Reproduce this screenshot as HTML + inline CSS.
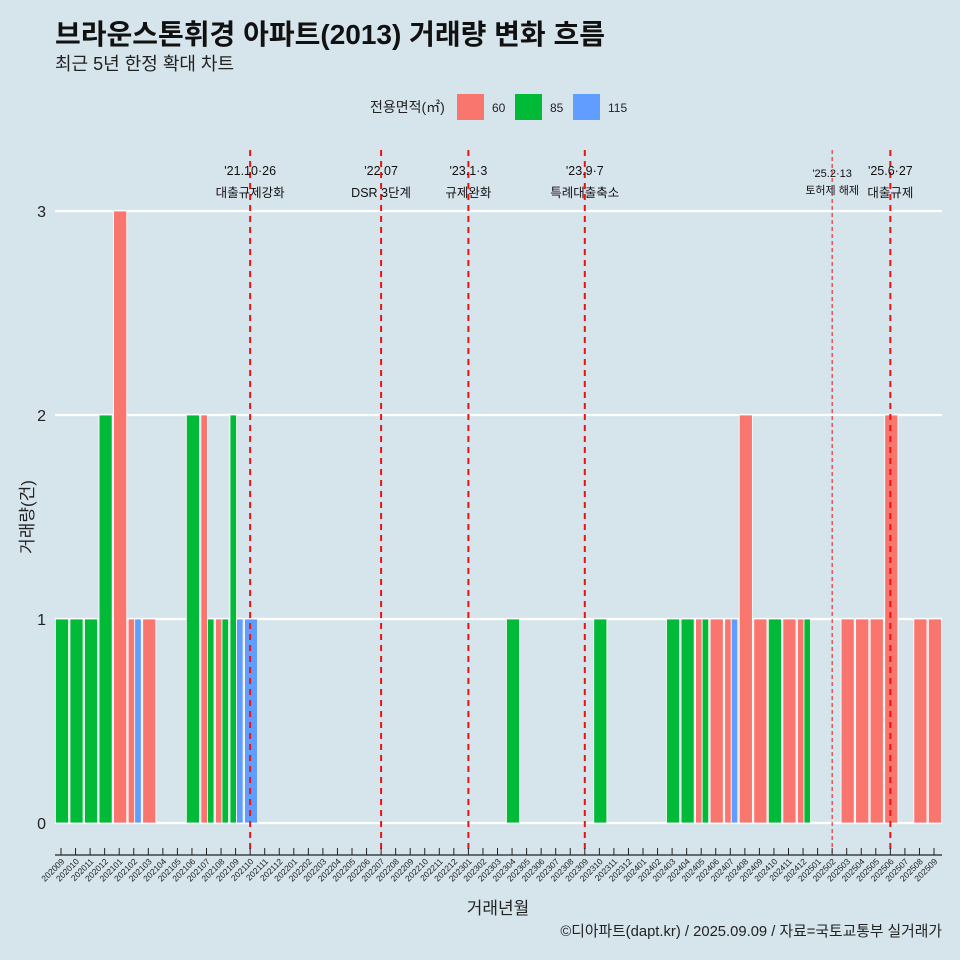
<!DOCTYPE html>
<html><head><meta charset="utf-8"><style>
body{margin:0;background:#d6e4ec;}
svg{display:block;font-family:"Liberation Sans","Noto Sans CJK KR",sans-serif;}
</style></head><body>
<svg id="c" width="960" height="960">
<rect width="960" height="960" fill="#d6e4ec"/>
<text x="55" y="44" font-size="28" font-weight="bold" fill="#111">브라운스톤휘경 아파트(2013) 거래량 변화 흐름</text>
<text x="55" y="70" font-size="18" fill="#222">최근 5년 한정 확대 차트</text>
<g>
<text x="370" y="112" font-size="14" fill="#222">전용면적(㎡)</text>
<rect x="457" y="94" width="27" height="26" fill="#f8766d"/>
<text x="492" y="112" font-size="12" fill="#222">60</text>
<rect x="515" y="94" width="27" height="26" fill="#00ba38"/>
<text x="550" y="112" font-size="12" fill="#222">85</text>
<rect x="573" y="94" width="27" height="26" fill="#619cff"/>
<text x="608" y="112" font-size="12" fill="#222">115</text>
</g>
<g id="grid"></g><g id="bars"></g><g id="vl"></g><g id="axes"></g>
<text x="498" y="914" font-size="17" text-anchor="middle" fill="#222">거래년월</text>
<text transform="translate(33,517) rotate(-90)" font-size="17" text-anchor="middle" fill="#222">거래량(건)</text>
<text x="942" y="936" font-size="14.8" text-anchor="end" fill="#222">©디아파트(dapt.kr) / 2025.09.09 / 자료=국토교통부 실거래가</text>
</svg>
<script>
const months=[];for(let y=2020,m=9;!(y===2025&&m===10);){months.push(y+String(m).padStart(2,'0'));m++;if(m>12){m=1;y++;}}
const s60={"202101":3,"202102":1,"202103":1,"202107":2,"202108":1,"202405":1,"202406":1,"202407":1,"202408":2,"202409":1,"202411":1,"202412":1,"202503":1,"202504":1,"202505":1,"202506":2,"202508":1,"202509":1};
const s85={"202009":1,"202010":1,"202011":1,"202012":2,"202106":2,"202107":1,"202108":1,"202109":2,"202304":1,"202310":1,"202403":1,"202404":1,"202405":1,"202410":1,"202412":1};
const s115={"202102":1,"202109":1,"202110":1,"202407":1};
const yTicks=[0,1,2,3];
const events=[{m:"202110",l1:"'21.10·26",l2:"대출규제강화",w:2},{m:"202207",l1:"'22.07",l2:"DSR 3단계",w:2},{m:"202301",l1:"'23.1·3",l2:"규제완화",w:2},{m:"202309",l1:"'23.9·7",l2:"특례대출축소",w:2},{m:"202502",l1:"'25.2·13",l2:"토허제 해제",w:1,small:1},{m:"202506",l1:"'25.6·27",l2:"대출규제",w:2}];
const NS="http://www.w3.org/2000/svg";
const x0=61,dx=14.55,y0=823,dy=204;
const X=i=>x0+i*dx, Y=v=>y0-v*dy;
function mk(t,a,p){const e=document.createElementNS(NS,t);for(const k in a)e.setAttribute(k,a[k]);p.appendChild(e);return e;}
const G=document.getElementById('grid'),B=document.getElementById('bars'),V=document.getElementById('vl'),A=document.getElementById('axes');
yTicks.forEach(v=>{const l=mk('line',{x1:55,x2:942,y1:Y(v),y2:Y(v),stroke:'#fff','stroke-width':2.2},G);


const t=mk('text',{x:46,y:Y(v)+6,'font-size':16,'text-anchor':'end',fill:'#222'},A);t.textContent=v;

});
const ser=[[s60,'#f8766d','60'],[s85,'#00ba38','85'],[s115,'#619cff','115']];
months.forEach((m,i)=>{const present=ser.filter(s=>s[0][m]);const bw=13.1/Math.max(present.length,1);
present.forEach((s,j)=>{const v=s[0][m];const r=mk('rect',{x:X(i)-5.6+j*bw,y:Y(v),width:bw,height:v*dy,fill:s[1],stroke:'#fff','stroke-width':0.8},B);

});
const tk=mk('line',{x1:X(i),x2:X(i),y1:848,y2:855,stroke:'#222','stroke-width':1},A);


const t=mk('text',{transform:`translate(${X(i)+4},862) rotate(-45)`,'font-size':8.5,'text-anchor':'end',fill:'#222'},A);t.textContent=m;

});
const ax=mk('line',{x1:55,x2:942,y1:855,y2:855,stroke:'#222','stroke-width':1.2},A);


events.forEach(e=>{const i=months.indexOf(e.m);const x=X(i);
const l=mk('line',{x1:x,x2:x,y1:150,y2:853,stroke:'#ee1111','stroke-width':e.w,'stroke-dasharray':e.w>1?'6,5':'4,3'},V);


const fs=e.small?11:12.5;
const t1=mk('text',{x:x,y:e.small?177:175,'font-size':fs,'text-anchor':'middle',fill:'#111'},V);t1.textContent=e.l1;


const t2=mk('text',{x:x,y:e.small?194:197,'font-size':fs,'text-anchor':'middle',fill:'#111'},V);t2.textContent=e.l2;

});
</script>
</body></html>
